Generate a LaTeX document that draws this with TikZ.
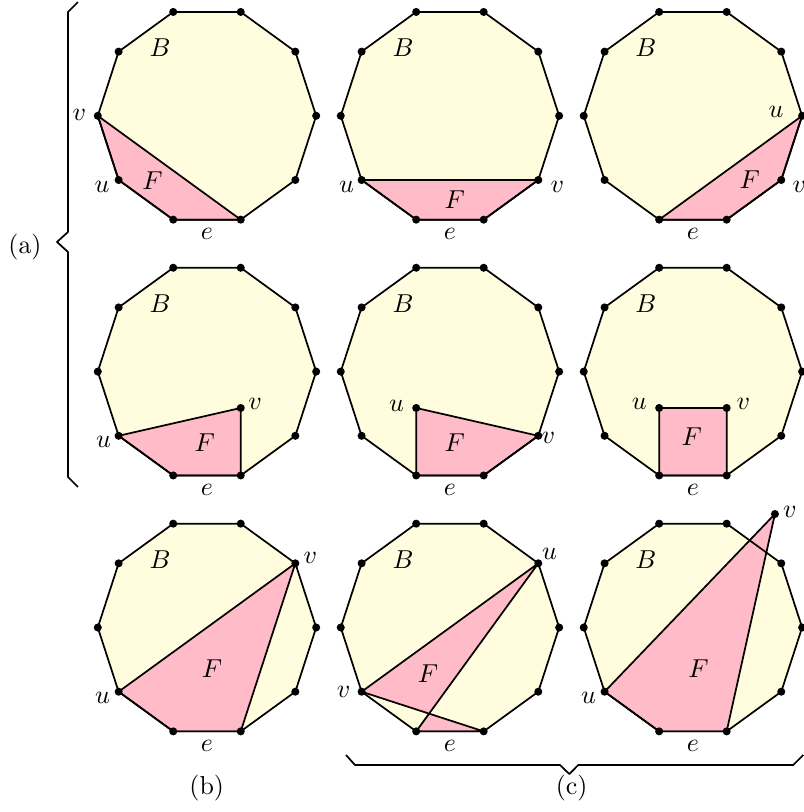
\documentclass[tikz,border=0pt]{standalone}
\begin{document}
\definecolor{baseyellow}{RGB}{255,253,222}
\definecolor{facepink}{RGB}{255,188,200}
\tikzset{
  dot/.style={circle, fill=black, inner sep=0pt, minimum size=4.2pt},
  edgeline/.style={line width=0.9pt, line join=round},
  face/.style={fill=facepink, draw=black, edgeline},
  lbl/.style={inner sep=0pt, scale=1.35},
}
% base region B with its ten corners p0..p9 (p7 -- p8 is the edge e)
\newcommand{\setupdecagon}{%
  \foreach \k in {0,...,9} \coordinate (p\k) at (\k*36:2);
  \fill[baseyellow] (p0) \foreach \k in {1,...,9} {-- (p\k)} -- cycle;
  \node[lbl] (B) at (-0.86,1.245) {$B$};
  \node[lbl] (e) at (0,-2.17) {$e$};
}
\newcommand{\closedecagon}{%
  \draw[edgeline] (p0) \foreach \k in {1,...,9} {-- (p\k)} -- cycle;
  \foreach \k in {0,...,9} \node[dot] (d\k) at (p\k) {};
}
\begin{tikzpicture}
\useasboundingbox (-3.791,-12.751) rectangle (10.934,2.121);
\clip (-3.791,-12.751) rectangle (10.934,2.121);
% (a), first row
\begin{scope}
  \setupdecagon
  \filldraw[face] (p5) -- (p6) -- (p7) -- (p8) -- cycle;
  \node[lbl] (F) at (-1.0,-1.19) {$F$};
  \node[xshift=-0.337cm, yshift=0.015cm, lbl] (v) at (p5) {$v$};
  \node[xshift=-0.304cm, yshift=-0.119cm, lbl] (u) at (p6) {$u$};
  \closedecagon
\end{scope}
\begin{scope}[xshift=4.45cm]
  \setupdecagon
  \filldraw[face] (p6) -- (p7) -- (p8) -- (p9) -- cycle;
  \node[lbl] (F) at (0.09,-1.54) {$F$};
  \node[xshift=-0.275cm, yshift=-0.134cm, lbl] (u) at (p6) {$u$};
  \node[xshift=0.348cm, yshift=-0.134cm, lbl] (v) at (p9) {$v$};
  \closedecagon
\end{scope}
\begin{scope}[xshift=8.9cm]
  \setupdecagon
  \filldraw[face] (p7) -- (p8) -- (p9) -- (p0) -- cycle;
  \node[lbl] (F) at (1.04,-1.17) {$F$};
  \node[xshift=-0.476cm, yshift=0.073cm, lbl] (u) at (p0) {$u$};
  \node[xshift=0.33cm, yshift=-0.119cm, lbl] (v) at (p9) {$v$};
  \closedecagon
\end{scope}
% (a), second row
\begin{scope}[yshift=-4.685cm]
  \setupdecagon
  \coordinate (q) at (0.618,-0.666);
  \filldraw[face] (p6) -- (p7) -- (p8) -- (q) -- cycle;
  \node[lbl] (F) at (-0.04,-1.31) {$F$};
  \node[xshift=-0.275cm, yshift=-0.106cm, lbl] (u) at (p6) {$u$};
  \node[xshift=0.262cm, yshift=0.081cm, lbl] (v) at (q) {$v$};
  \closedecagon
  \node[dot] (dq) at (q) {};
\end{scope}
\begin{scope}[xshift=4.45cm, yshift=-4.685cm]
  \setupdecagon
  \coordinate (q) at (-0.618,-0.666);
  \filldraw[face] (p7) -- (p8) -- (p9) -- (q) -- cycle;
  \node[lbl] (F) at (0.09,-1.31) {$F$};
  \node[xshift=-0.359cm, yshift=0.037cm, lbl] (u) at (q) {$u$};
  \node[xshift=0.183cm, yshift=-0.031cm, lbl] (v) at (p9) {$v$};
  \closedecagon
  \node[dot] (dq) at (q) {};
\end{scope}
\begin{scope}[xshift=8.9cm, yshift=-4.685cm]
  \setupdecagon
  \coordinate (q) at (-0.618,-0.666);
  \coordinate (r) at (0.618,-0.666);
  \filldraw[face] (p7) -- (p8) -- (r) -- (q) -- cycle;
  \node[lbl] (F) at (-0.02,-1.19) {$F$};
  \node[xshift=-0.366cm, yshift=0.081cm, lbl] (u) at (q) {$u$};
  \node[xshift=0.304cm, yshift=0.081cm, lbl] (v) at (r) {$v$};
  \closedecagon
  \node[dot] (dq) at (q) {};
  \node[dot] (dr) at (r) {};
\end{scope}
% (b)
\begin{scope}[yshift=-9.372cm]
  \setupdecagon
  \filldraw[face] (p6) -- (p1) -- (p8) -- (p7) -- cycle;
  \node[lbl] (F) at (0.09,-0.75) {$F$};
  \node[xshift=-0.293cm, yshift=-0.121cm, lbl] (u) at (p6) {$u$};
  \node[xshift=0.275cm, yshift=0.092cm, lbl] (v) at (p1) {$v$};
  \closedecagon
\end{scope}
% (c)
\begin{scope}[xshift=4.45cm, yshift=-9.372cm]
  \setupdecagon
  \filldraw[face] (p6) -- (p1) -- (p7) -- (p8) -- cycle;
  \node[lbl] (F) at (-0.40,-0.84) {$F$};
  \node[xshift=-0.33cm, lbl] (v) at (p6) {$v$};
  \node[xshift=0.207cm, yshift=0.179cm, lbl] (u) at (p1) {$u$};
  \closedecagon
\end{scope}
\begin{scope}[xshift=8.9cm, yshift=-9.372cm]
  \setupdecagon
  \coordinate (w) at (1.502,2.079);
  \filldraw[face] (p6) -- (w) -- (p8) -- (p7) -- cycle;
  \node[lbl] (F) at (0.10,-0.75) {$F$};
  \node[xshift=-0.293cm, yshift=-0.117cm, lbl] (u) at (p6) {$u$};
  \node[xshift=0.275cm, yshift=0.042cm, lbl] (v) at (w) {$v$};
  \closedecagon
  \node[dot] (dw) at (w) {};
\end{scope}
% braces and captions
\coordinate (bracea) at (-2.363,2.084);
\coordinate (bracec) at (2.546,-11.707);
\draw[edgeline] (bracea) -- ++(-0.183,-0.183) -- (-2.546,-2.128) -- (-2.747,-2.311)
  -- (-2.546,-2.494) -- (-2.546,-6.615) -- (-2.363,-6.798);
\draw[edgeline] (bracec) -- ++(0.165,-0.183) -- (6.465,-11.89) -- (6.636,-12.055)
  -- (6.80,-11.89) -- (10.738,-11.89) -- (10.921,-11.707);
\node[lbl] (capa) at (-3.333,-2.397) {(a)};
\node[lbl] (capb) at (-0.005,-12.317) {(b)};
\node[lbl] (capc) at (6.679,-12.317) {(c)};
\end{tikzpicture}
\end{document}
